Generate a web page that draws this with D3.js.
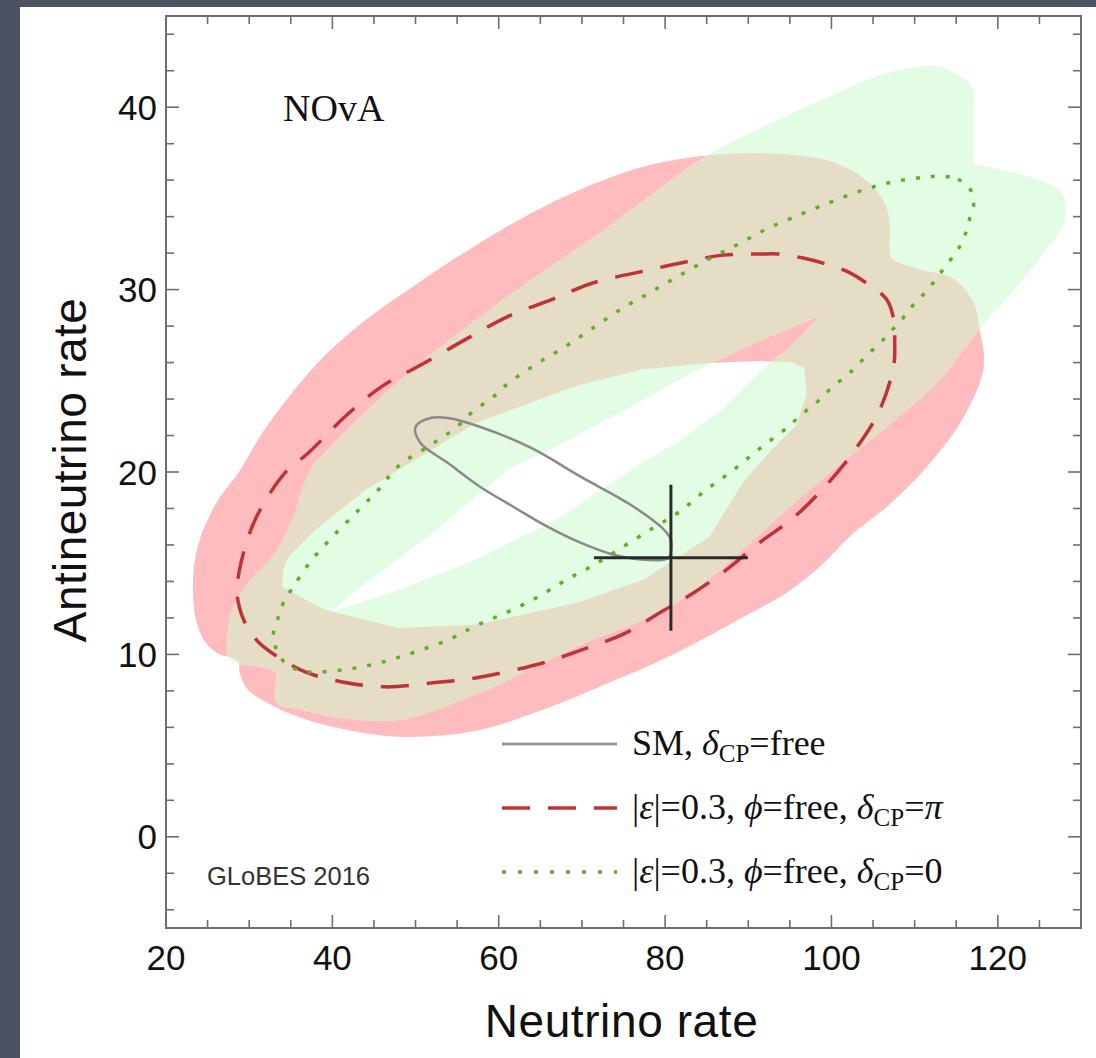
<!DOCTYPE html>
<html><head><meta charset="utf-8">
<script src="https://cdn.jsdelivr.net/npm/d3@7"></script>
<style>body{margin:0;background:#4b5160;} svg{display:block}</style>
</head><body><svg id="c" width="1096" height="1058"></svg>
<script>
// ---------- DATA (data units) ----------
const xMajorTicks = [20, 40, 60, 80, 100, 120];
const yMajorTicks = [0, 10, 20, 30, 40];
const xDomain = [20, 130];
const yDomain = [-5, 45];

// filled region: |eps|=0.3, dCP=pi (red ring), outer and inner borders
const redOuter = [[23.25,14.08],[23.86,16.0],[25.9,18.19],[28.92,20.11],[31.57,22.14],[34.94,24.22],[39.16,26.41],[43.98,28.33],[49.4,30.08],[54.82,31.73],[60.24,33.26],[65.3,34.52],[71.08,35.73],[77.11,36.71],[83.13,37.26],[89.16,37.48],[94.58,37.42],[100.6,36.93],[104.58,35.84],[106.5,34.63],[107.0,33.64],[107.0,32.3],[107.3,31.7],[110.6,31.12],[114.7,30.58],[117.11,29.26],[117.83,27.78],[118.31,25.75],[115.9,23.01],[111.45,20.27],[106.63,18.08],[102.65,16.66],[98.55,14.79],[94.58,13.37],[89.4,12.05],[81.33,10.08],[73.25,8.44],[65.3,6.96],[57.23,5.81],[47.95,5.48],[40.0,6.03],[35.9,6.58],[33.13,7.12],[29.88,8.05],[28.92,8.88],[28.67,9.59],[27.95,9.81],[26.27,10.03],[24.7,10.68],[23.61,11.89]];
const redInner = [[34.7,15.34],[37.95,16.82],[43.98,19.01],[47.95,20.11],[57.23,22.68],[69.28,24.71],[77.35,25.64],[85.3,25.97],[91.33,26.08],[95.18,26.03],[96.75,25.7],[96.99,24.22],[95.78,22.58],[92.77,21.21],[89.4,19.45],[85.3,16.44],[77.35,14.08],[69.28,12.82],[57.23,11.62],[47.95,11.45],[39.16,12.44],[33.98,13.7],[34.1,14.63]];
// filled region: |eps|=0.3, dCP=0 (green ring)
const greenOuter = [[37.35,20.11],[40.0,21.48],[48.19,25.04],[57.23,28.33],[65.3,30.96],[73.25,33.48],[85.3,37.42],[94.58,39.51],[100.6,40.77],[106.63,41.86],[112.65,42.25],[115.42,41.7],[117.11,41.0],[117.11,40.3],[117.11,37.6],[117.11,36.93],[118.0,36.82],[125.9,35.84],[127.95,35.12],[127.95,33.64],[125.3,31.89],[122.65,30.36],[117.83,27.84],[112.65,24.88],[106.63,22.47],[100.6,20.27],[94.58,17.92],[81.33,12.82],[69.28,10.41],[57.23,7.8],[47.95,6.4],[40.0,6.6],[35.9,7.0],[33.73,7.2],[33.13,7.6],[33.13,9.04],[31.93,9.26],[27.95,9.59],[27.47,9.86],[27.35,10.96],[27.95,12.44],[29.88,13.92],[33.13,15.56],[35.18,17.37]];
const greenInner = [[39.76,12.33],[43.98,13.92],[52.05,16.66],[61.2,20.16],[66.87,21.37],[77.35,23.95],[84.34,25.7],[91.57,27.23],[98.55,28.55],[96.4,27.45],[94.58,26.68],[92.77,26.03],[91.33,25.48],[86.75,23.4],[81.93,21.75],[77.35,20.55],[72.29,19.01],[66.87,17.37],[57.23,15.18],[47.95,13.53]];

// curves
const smCurve = [[50.0,22.47],[51.8,22.96],[53.9,22.96],[57.8,22.47],[63.9,21.32],[69.9,19.73],[75.9,18.19],[79.9,16.82],[80.7,16.27],[80.4,15.29],[78.0,15.18],[73.9,15.45],[69.9,16.11],[65.9,16.99],[61.8,18.08],[57.8,19.18],[53.9,20.49],[50.6,21.59]];
const dashedCurve = [[96.6,31.73],[93.7,31.95],[91.3,31.95],[87.0,31.89],[82.9,31.56],[77.4,31.01],[71.3,30.36],[66.5,29.48],[61.2,28.55],[56.3,27.34],[50.4,25.81],[46.0,24.71],[41.6,23.07],[37.1,21.04],[34.3,19.95],[30.7,17.37],[28.9,14.79],[28.55,13.53],[28.7,12.82],[29.5,11.73],[31.1,10.68],[33.1,9.97],[36.75,9.04],[41.2,8.49],[46.4,8.22],[52.05,8.44],[57.2,8.71],[65.3,9.53],[69.3,10.14],[75.3,11.18],[79.3,12.27],[83.4,13.37],[87.35,14.63],[91.3,16.11],[95.4,17.48],[99.4,19.29],[103.0,21.32],[105.8,23.4],[107.5,25.86],[107.6,27.07],[107.5,28.33],[106.6,29.48],[104.2,30.36],[101.8,31.01],[99.0,31.45]];
const dottedCurve = [[113.1,36.22],[115.2,36.05],[116.6,35.56],[117.1,34.68],[116.6,33.86],[116.0,32.93],[115.1,32.11],[113.9,31.4],[112.65,30.63],[111.45,29.92],[110.0,29.26],[108.8,28.55],[107.5,27.89],[106.3,27.29],[104.8,26.63],[103.25,25.92],[101.8,25.26],[100.2,24.71],[98.8,24.05],[97.35,23.51],[95.8,22.9],[94.6,22.41],[91.3,21.26],[88.2,20.11],[84.9,19.01],[81.7,17.81],[78.55,16.93],[74.9,15.89],[71.45,14.9],[68.1,14.08],[64.7,13.15],[61.1,12.33],[57.2,11.56],[53.9,10.79],[50.0,10.14],[46.1,9.59],[42.2,9.21],[38.2,9.04],[36.4,9.1],[34.6,9.42],[33.4,10.14],[32.9,11.07],[33.4,11.89],[34.1,12.82],[35.2,13.64],[37.35,15.07],[40.0,16.44],[42.8,17.75],[45.5,19.01],[47.95,20.33],[51.6,21.42],[54.8,22.41],[56.6,23.2],[59.6,24.22],[61.2,24.88],[64.7,25.97],[68.1,26.9],[71.3,27.89],[74.7,28.93],[78.1,29.81],[81.6,30.74],[85.2,31.67],[88.8,32.49],[92.2,33.32],[95.8,34.03],[99.6,34.74],[103.4,35.4],[107.2,35.89],[111.2,36.16]];
// SM best-fit point with statistical errors
const point = {x: 80.7, y: 15.3, xErr: 9.25, yErr: 4.0};

const legendLabels = [
  [["SM, ",""],["δ","i"],["CP","s"],["=free",""]],
  [["|",""],["ε","i"],["|=0.3, ",""],["ϕ","i"],["=free, ",""],["δ","i"],["CP","s"],["=",""],["π","i"]],
  [["|",""],["ε","i"],["|=0.3, ",""],["ϕ","i"],["=free, ",""],["δ","i"],["CP","s"],["=0",""]]
];
const experimentLabel = "NOvA";
const creditLabel = "GLoBES 2016";
const xTitle = "Neutrino rate";
const yTitle = "Antineutrino rate";

// ---------- DRAW ----------
const svg = d3.select("#c");
const L = 166, R = 1081, T = 16, B = 928;
const x = d3.scaleLinear().domain(xDomain).range([L, R]);
const y = d3.scaleLinear().domain(yDomain).range([B, T]);

svg.append("rect").attr("width",1096).attr("height",1058).attr("fill","#4b5160");
svg.append("rect").attr("x",20).attr("y",7).attr("width",1076).attr("height",1051).attr("fill","#ffffff");

const smooth = d3.line().x(d=>x(d[0])).y(d=>y(d[1])).curve(d3.curveCatmullRomClosed.alpha(0.5));
const linear = d3.line().x(d=>x(d[0])).y(d=>y(d[1])).curve(d3.curveLinearClosed);
const redRing = smooth(redOuter) + linear(redInner);
const greenRing = smooth(greenOuter) + linear(greenInner);

const defs = svg.append("defs");
defs.append("clipPath").attr("id","plotClip").append("rect").attr("x",L).attr("y",T).attr("width",R-L).attr("height",B-T);
defs.append("clipPath").attr("id","redClip").append("path").attr("d",redRing).attr("clip-rule","evenodd");

const g = svg.append("g").attr("clip-path","url(#plotClip)");
g.append("path").attr("d",redRing).attr("fill","#ffbcbe").attr("fill-rule","evenodd");
g.append("path").attr("d",greenRing).attr("fill","#e3fde4").attr("fill-rule","evenodd");
g.append("g").attr("clip-path","url(#redClip)")
  .append("path").attr("d",greenRing).attr("fill","#e6ddc7").attr("fill-rule","evenodd");

g.append("path").attr("d",smooth(dashedCurve)).attr("fill","none").attr("stroke","#bf3336")
  .attr("stroke-width",3.5).attr("stroke-dasharray","28,18");
g.append("path").attr("d",smooth(dottedCurve)).attr("fill","none").attr("stroke","#62ae2c")
  .attr("stroke-width",3.5).attr("stroke-dasharray","4,11");
g.append("path").attr("d",smooth(smCurve)).attr("fill","none").attr("stroke","#8a8a8a")
  .attr("stroke-width",2.5);

// cross
g.append("line").attr("x1",x(point.x-point.xErr)).attr("x2",x(point.x+point.xErr))
  .attr("y1",y(point.y)).attr("y2",y(point.y)).attr("stroke","#2a2a2a").attr("stroke-width",3);
g.append("line").attr("x1",x(point.x)).attr("x2",x(point.x))
  .attr("y1",y(point.y-point.yErr)).attr("y2",y(point.y+point.yErr)).attr("stroke","#2a2a2a").attr("stroke-width",3);

// frame and ticks
const axisCol = "#6e6e6e";
svg.append("rect").attr("x",L).attr("y",T).attr("width",R-L).attr("height",B-T)
  .attr("fill","none").attr("stroke",axisCol).attr("stroke-width",2);
const tk = svg.append("g").attr("stroke",axisCol).attr("stroke-width",1.6);
const xMinor = d3.range(xDomain[0], xDomain[1]+0.01, 5);
const yMinor = d3.range(-4, yDomain[1]+0.01, 2);
xMinor.forEach(v=>{
  const len = xMajorTicks.includes(v) ? 13 : 8;
  tk.append("line").attr("x1",x(v)).attr("x2",x(v)).attr("y1",B).attr("y2",B-len);
  tk.append("line").attr("x1",x(v)).attr("x2",x(v)).attr("y1",T).attr("y2",T+len);
});
yMinor.forEach(v=>{
  const len = yMajorTicks.includes(v) ? 13 : 8;
  tk.append("line").attr("y1",y(v)).attr("y2",y(v)).attr("x1",L).attr("x2",L+len);
  tk.append("line").attr("y1",y(v)).attr("y2",y(v)).attr("x1",R).attr("x2",R-len);
});

const sans = "'Liberation Sans', Arial, Helvetica, sans-serif";
const serif = "'Liberation Serif', 'Times New Roman', serif";
svg.append("g").selectAll("text").data(xMajorTicks).join("text")
  .attr("x",d=>x(d)).attr("y",970).attr("text-anchor","middle")
  .attr("font-family",sans).attr("font-size",35).attr("fill","#111").text(d=>d);
svg.append("g").selectAll("text").data(yMajorTicks).join("text")
  .attr("x",157).attr("y",d=>y(d)+12.5).attr("text-anchor","end")
  .attr("font-family",sans).attr("font-size",35).attr("fill","#111").text(d=>d);

svg.append("text").attr("x",(L+R)/2-2).attr("y",1037).attr("text-anchor","middle")
  .attr("font-family",sans).attr("font-size",46).attr("letter-spacing",0.6).attr("fill","#111").text(xTitle);
svg.append("text").attr("transform","translate(86,470) rotate(-90)").attr("text-anchor","middle")
  .attr("font-family",sans).attr("font-size",46).attr("letter-spacing",0.4).attr("fill","#111").text(yTitle);

svg.append("text").attr("x",283).attr("y",121).attr("font-family",serif).attr("font-size",38)
  .attr("fill","#111").text(experimentLabel);
svg.append("text").attr("x",207).attr("y",885).attr("font-family",sans).attr("font-size",25.5)
  .attr("fill","#333").text(creditLabel);

// legend
const legY = [744, 808, 872];
const leg = svg.append("g");
leg.append("line").attr("x1",502).attr("x2",617).attr("y1",legY[0]).attr("y2",legY[0])
  .attr("stroke","#9a9a9a").attr("stroke-width",3);
leg.append("line").attr("x1",502).attr("x2",617).attr("y1",legY[1]).attr("y2",legY[1])
  .attr("stroke","#bf3336").attr("stroke-width",3.5).attr("stroke-dasharray","28,18");
leg.append("line").attr("x1",502).attr("x2",617).attr("y1",legY[2]).attr("y2",legY[2])
  .attr("stroke","#62ae2c").attr("stroke-width",3.5).attr("stroke-dasharray","4,12");
legendLabels.forEach((parts,i)=>{
  const t = leg.append("text").attr("x",632).attr("y",legY[i]+11)
    .attr("font-family",serif).attr("font-size",36).attr("fill","#111");
  parts.forEach((p,j)=>{
    const s = t.append("tspan").text(p[0]);
    if (p[1]==="i") s.attr("font-style","italic");
    if (p[1]==="s") s.attr("font-size",25).attr("dy",7);
    else if (j>0 && parts[j-1][1]==="s") s.attr("dy",-7);
  });
});
</script>
</body></html>
